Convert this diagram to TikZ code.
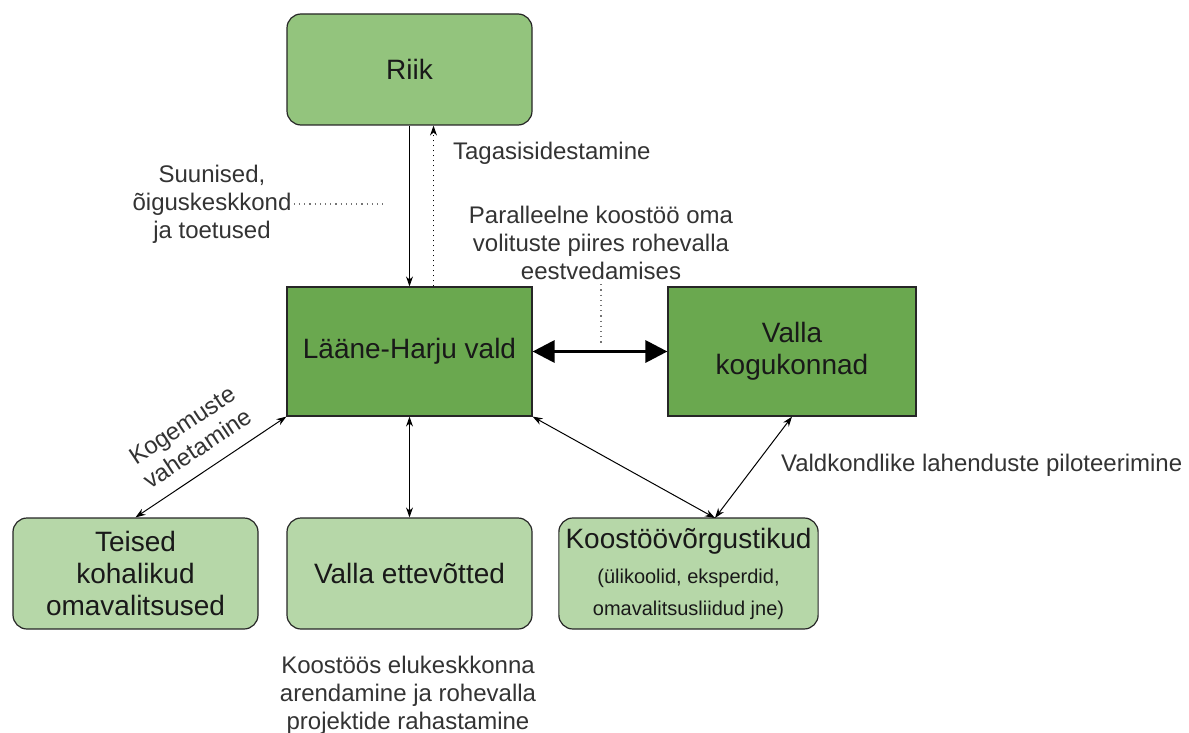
\documentclass[tikz,border=0pt]{standalone}
\usepackage{fontspec}
\setmainfont{Liberation Sans}
\usetikzlibrary{arrows.meta}
\definecolor{riikgreen}{HTML}{93C47D}
\definecolor{palegreen}{HTML}{B6D7A8}
\definecolor{valdgreen}{HTML}{6AA84F}
\definecolor{edgegray}{HTML}{262626}

\begin{document}
\begin{tikzpicture}[x=0.5pt,y=-0.5pt,
  box/.style={draw=edgegray,line width=0.6pt,align=center,text=black!90,font=\fontsize{14}{16}\selectfont},
  softbox/.style={box,rounded corners=7pt,minimum width=122.5pt,minimum height=55.5pt},
  mainbox/.style={box,fill=valdgreen,minimum height=64.5pt},
  note/.style={align=center,text=black!80,font=\fontsize{12}{14}\selectfont},
  link/.style={{Stealth[length=5pt,width=3.5pt]}-{Stealth[length=5pt,width=3.5pt]},line width=0.5pt},
  oneway/.style={-{Stealth[length=5pt,width=3.5pt]},line width=0.5pt},
  hint/.style={dotted,black!55,line width=0.6pt}]
  \useasboundingbox (0,0) rectangle (1189,733);

  \node[softbox,fill=riikgreen] (riik) at (409.5,69.5) {Riik};
  \node[mainbox,minimum width=122.5pt] (vald) at (409.5,351.5) {Lääne-Harju vald};
  \node[mainbox,minimum width=124pt] (kogukond) at (792,351.5) {Valla\\kogukonnad};
  \node[softbox,fill=palegreen] (teised) at (135.5,573.5) {Teised\\kohalikud\\omavalitsused};
  \node[softbox,fill=palegreen] (ettevotted) at (409.5,573.5) {Valla ettevõtted};
  \node[softbox,fill=palegreen,minimum width=124.5pt] (vorgustik) at (688.5,573.5)
    {Koostöövõrgustikud\\[1.5pt]\fontsize{10}{12.5}\selectfont(ülikoolid, eksperdid,\\\fontsize{10}{12.5}\selectfont omavalitsusliidud jne)};

  \node[note,inner sep=1pt] (suunised) at (212,204) {Suunised,\\õiguskeskkond\\ja toetused};
  \node[note,anchor=west] (tagasiside) at (446,153) {Tagasisidestamine};
  \node[note,inner sep=2pt] (paralleel) at (601,243) {Paralleelne koostöö oma\\volituste piires rohevalla\\eestvedamises};
  \node[note,anchor=west] (piloot) at (774,465) {Valdkondlike lahenduste piloteerimine};
  \node[note] (rahastus) at (408,695) {Koostöös elukeskkonna\\arendamine ja rohevalla\\projektide rahastamine};
  \node[note,rotate=33.6,inner sep=1pt] (kogemus) at (190,437) {Kogemuste\\vahetamine};

  \coordinate (suunisedend) at (387,204);
  \coordinate (paralleelend) at (601,343);
  \coordinate (vorgustiktop) at (715,518);

  \draw[oneway] (riik.south) -- (vald.north);
  \draw[oneway,dotted] ([xshift=12pt]vald.north) -- ([xshift=12pt]riik.south);
  \draw[hint] (suunised.east) -- (suunisedend);
  \draw[hint] (paralleel.south) -- (paralleelend);
  \draw[{Triangle[length=11pt,width=11pt]}-{Triangle[length=11pt,width=11pt]},line width=1.6pt] (vald.east) -- (kogukond.west);
  \draw[link] (teised.north) -- (vald.south west);
  \draw[link] (vald.south) -- (ettevotted.north);
  \draw[link] (vald.south east) -- (vorgustiktop);
  \draw[link] (kogukond.south) -- (vorgustiktop);
\end{tikzpicture}
\end{document}
